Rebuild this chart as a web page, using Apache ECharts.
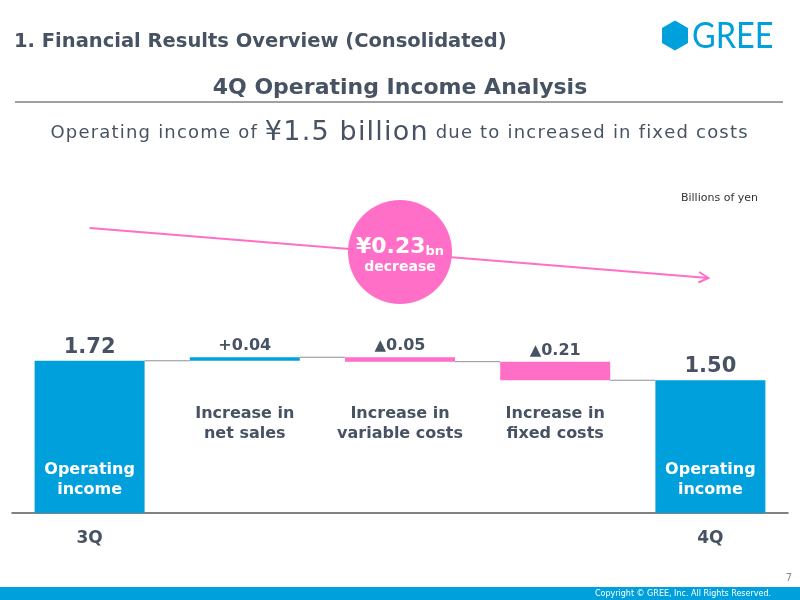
<!DOCTYPE html>
<html>
<head>
<meta charset="utf-8">
<script src="https://cdn.jsdelivr.net/npm/echarts@6/dist/echarts.min.js"></script>
<style>
  html, body { margin: 0; padding: 0; background: #fff; }
  #main { width: 800px; height: 600px; }
</style>
</head>
<body>
<div id="main"></div>
<script>
// 4Q operating income bridge, billions of yen
const categories = ['3Q', 'Net sales', 'Variable costs', 'Fixed costs', '4Q'];
const changes = [1.72, 0.04, -0.05, -0.21, 1.50];
const isTotal = [true, false, false, false, true];
const valueLabels = ['1.72', '+0.04', '{tri|▲}0.05', '{tri|▲}0.21', '1.50'];
const barNames = ['Operating\nincome', 'Increase in\nnet sales', 'Increase in\nvariable costs', 'Increase in\nfixed costs', 'Operating\nincome'];
const tickLabels = ['3Q', '', '', '', '4Q'];

const BLUE = '#00A0DC';
const PINK = '#FF6EC7';
const TEXT = '#475363';
const FONT = '"DejaVu Sans", Verdana, sans-serif';
const BAR_W = 110;

// build waterfall pieces
let level = 0;
const baseData = [], barData = [], topData = [], levels = [];
changes.forEach((v, i) => {
    let base, h;
    if (isTotal[i]) {
        base = 0; h = v; level = v;
    } else {
        const end = level + v;
        base = Math.min(level, end); h = Math.abs(v); level = end;
    }
    levels.push(+level.toFixed(2));
    baseData.push({
        value: +base.toFixed(2),
        label: isTotal[i] ? { show: false } : {
            show: true, position: 'insideBottom', distance: 69,
            formatter: barNames[i], color: TEXT, fontSize: 16, fontWeight: 'bold',
            fontFamily: FONT, lineHeight: 20
        }
    });
    barData.push({
        value: +h.toFixed(2),
        itemStyle: { color: (isTotal[i] || v > 0) ? BLUE : PINK },
        label: isTotal[i] ? {
            show: true, position: 'insideBottom', distance: 13,
            formatter: barNames[i], color: '#fff', fontSize: 16, fontWeight: 'bold',
            fontFamily: FONT, lineHeight: 20
        } : { show: false }
    });
    topData.push({
        value: 0,
        label: {
            show: true, position: 'top', distance: isTotal[i] ? 3 : 3,
            formatter: valueLabels[i], color: TEXT, fontWeight: 'bold', fontFamily: FONT,
            fontSize: isTotal[i] ? 21 : 16,
            rich: { tri: { fontSize: 15, color: TEXT, fontFamily: FONT } }
        }
    });
});
const connectors = levels.slice(0, -1).map((y, i) => [i, y]);

// letter-spaced subtitle
const spaced = (str, style) => str.split('').map(c => '{' + style + '|' + c + '}').join('');
const subtitle = spaced('Operating income of ', 's') + spaced('¥1.5 billion', 'big') + spaced(' due to increased in fixed costs', 's');

const chart = echarts.init(document.getElementById('main'));

const option = {
    backgroundColor: '#fff',
    animation: false,
    grid: { left: 12, right: 12, top: 336, bottom: 87 },
    xAxis: {
        type: 'category',
        data: categories,
        axisLine: { lineStyle: { color: '#595959', width: 1.5 } },
        axisTick: { show: false },
        axisLabel: {
            margin: 17,
            formatter: (v, i) => tickLabels[i],
            color: TEXT, fontSize: 17, fontWeight: 'bold', fontFamily: FONT
        }
    },
    yAxis: { type: 'value', min: 0, max: 2, show: false },
    series: [
        {
            type: 'bar', stack: 'w', barWidth: BAR_W, silent: true,
            itemStyle: { color: 'transparent' },
            data: baseData
        },
        {
            type: 'bar', stack: 'w', barWidth: BAR_W,
            data: barData
        },
        {
            type: 'bar', stack: 'w', barWidth: BAR_W,
            itemStyle: { color: 'transparent' },
            data: topData
        },
        {
            type: 'custom', z: 1,
            data: connectors,
            renderItem: (params, api) => {
                const p = api.coord([api.value(0), api.value(1)]);
                const q = api.coord([api.value(0) + 1, api.value(1)]);
                return {
                    type: 'line',
                    shape: { x1: p[0] + BAR_W / 2, y1: p[1], x2: q[0] - BAR_W / 2, y2: q[1] },
                    style: { stroke: '#8a929c', lineWidth: 1 }
                };
            }
        }
    ]
};
chart.setOption(option);

// decoration: header, arrow, bubble, footer
const x0 = chart.convertToPixel({ xAxisIndex: 0 }, 0);
const x4 = chart.convertToPixel({ xAxisIndex: 0 }, 4) - 2;
const ay0 = 228, ay1 = 278;
const ang = Math.atan2(ay1 - ay0, x4 - x0);
const head = (a) => [x4 - 11 * Math.cos(ang + a), ay1 - 11 * Math.sin(ang + a)];
const hex = [];
for (let k = 0; k < 6; k++) {
    const a = Math.PI / 2 + k * Math.PI / 3;
    hex.push([675 + 15 * Math.cos(a), 35.5 + 15 * Math.sin(a)]);
}

chart.setOption({
    graphic: [
        { type: 'text', style: { text: '1. Financial Results Overview (Consolidated)', x: 14, y: 42, textVerticalAlign: 'middle', fill: TEXT, font: 'bold 19.5px ' + FONT } },
        { type: 'polygon', shape: { points: hex }, style: { fill: BLUE } },
        { type: 'text', x: 692, y: 36, scaleY: 1.15, style: { text: 'GREE', x: 0, y: 0, textVerticalAlign: 'middle', fill: BLUE, font: '32.5px Lato, sans-serif' } },
        { type: 'text', style: { text: '4Q Operating Income Analysis', x: 400, y: 88, textAlign: 'center', textVerticalAlign: 'middle', fill: TEXT, font: 'bold 22px ' + FONT } },
        { type: 'line', shape: { x1: 15, y1: 102, x2: 783, y2: 102 }, style: { stroke: '#404040', lineWidth: 1 } },
        {
            type: 'text',
            style: {
                text: subtitle,
                x: 399, y: 133, textAlign: 'center', textVerticalAlign: 'middle',
                fill: TEXT, font: '18px ' + FONT,
                rich: {
                    s: { fontSize: 18, fontFamily: FONT, fill: TEXT, padding: [0, 0.6] },
                    big: { fontSize: 27, fontFamily: FONT, fill: TEXT, padding: [0, 0.6] }
                }
            }
        },
        { type: 'text', style: { text: 'Billions of yen', x: 758, y: 198, textAlign: 'right', textVerticalAlign: 'middle', fill: '#333', font: '11px ' + FONT } },
        { type: 'line', z: 5, shape: { x1: x0, y1: ay0, x2: x4, y2: ay1 }, style: { stroke: PINK, lineWidth: 2 } },
        { type: 'polyline', z: 5, shape: { points: [head(0.5), [x4, ay1], head(-0.5)] }, style: { stroke: PINK, lineWidth: 2, fill: null } },
        { type: 'circle', z: 6, shape: { cx: 400, cy: 252, r: 52 }, style: { fill: PINK } },
        {
            type: 'text', z: 7,
            style: {
                text: '{a|¥0.23}{b|bn}', x: 400, y: 247, textAlign: 'center', textVerticalAlign: 'middle',
                fill: '#fff', font: 'bold 22px ' + FONT,
                rich: {
                    a: { fontSize: 22, fontWeight: 'bold', fontFamily: FONT, fill: '#fff', verticalAlign: 'bottom' },
                    b: { fontSize: 13, fontWeight: 'bold', fontFamily: FONT, fill: '#fff', verticalAlign: 'bottom' }
                }
            }
        },
        { type: 'text', z: 7, style: { text: 'decrease', x: 400, y: 267, textAlign: 'center', textVerticalAlign: 'middle', fill: '#fff', font: 'bold 14px ' + FONT } },
        { type: 'text', style: { text: '7', x: 792, y: 578, textAlign: 'right', textVerticalAlign: 'middle', fill: '#888', font: '10px ' + FONT } },
        { type: 'rect', shape: { x: 0, y: 587, width: 800, height: 13 }, style: { fill: BLUE } },
        { type: 'text', style: { text: 'Copyright © GREE, Inc. All Rights Reserved.', x: 771, y: 594, textAlign: 'right', textVerticalAlign: 'middle', fill: '#fff', font: '8px ' + FONT } }
    ]
});
</script>
</body>
</html>
